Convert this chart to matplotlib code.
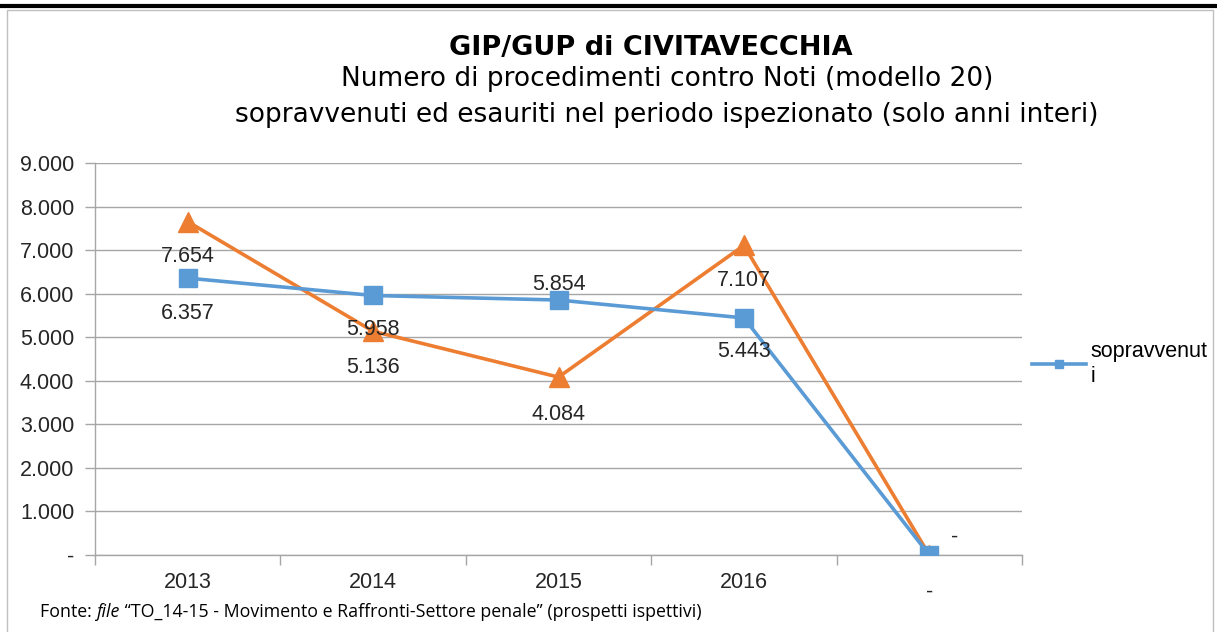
import matplotlib
matplotlib.use("Agg")
import matplotlib.pyplot as plt
from matplotlib.lines import Line2D
from matplotlib.patches import Rectangle

# ---- data ----
categories = ["2013", "2014", "2015", "2016", ""]
sopravvenuti = [6357, 5958, 5854, 5443, 0]
esauriti = [7654, 5136, 4084, 7107, 0]
y_ticks = [0, 1000, 2000, 3000, 4000, 5000, 6000, 7000, 8000, 9000]
y_tick_labels = ["-", "1.000", "2.000", "3.000", "4.000", "5.000",
                 "6.000", "7.000", "8.000", "9.000"]
title = "GIP/GUP di CIVITAVECCHIA"
subtitle = ("Numero di procedimenti contro Noti (modello 20)\n"
            "sopravvenuti ed esauriti nel periodo ispezionato (solo anni interi)")
legend_label = "sopravvenut\ni"

BLUE = "#5B9BD5"
ORANGE = "#ED7D31"
GRID = "#A6A6A6"
FS = 15.5


def fmt(v):
    if v == 0:
        return "-"
    return f"{v:,.0f}".replace(",", ".")


fig = plt.figure(figsize=(12.17, 6.32), dpi=100)
ax = fig.add_axes([95 / 1217, 1 - 555 / 632, 927 / 1217, 392 / 632])

x = list(range(len(categories)))
ax.plot(x, esauriti, color=ORANGE, lw=2.6, marker="^", ms=14,
        markeredgecolor=ORANGE, zorder=3)
ax.plot(x, sopravvenuti, color=BLUE, lw=2.6, marker="s", ms=12.5,
        markeredgecolor=BLUE, zorder=4)

ax.set_xlim(-0.5, len(categories) - 0.5)
ax.set_ylim(0, 9000)
ax.set_yticks(y_ticks)
ax.set_yticklabels(y_tick_labels, fontfamily="Liberation Sans", fontsize=FS,
                   color="#262626")
ax.set_xticks(x)
ax.set_xticklabels(categories, fontfamily="Liberation Sans", fontsize=FS,
                   color="#262626")
ax.set_xticks([i - 0.5 for i in range(len(categories) + 1)], minor=True)
ax.tick_params(axis="x", which="major", length=0, pad=12)
ax.tick_params(axis="x", which="minor", length=7, color=GRID, width=1)
ax.tick_params(axis="y", length=7, color=GRID, width=1, pad=8)
ax.grid(axis="y", color=GRID, lw=1)
ax.set_axisbelow(True)
for s in ["top", "right"]:
    ax.spines[s].set_visible(False)
for s in ["left", "bottom"]:
    ax.spines[s].set_color(GRID)
    ax.spines[s].set_linewidth(1)

# data labels (pixel offsets from the point)
blue_off = [(0, -35), (0, -34), (0, 16), (0, -34), (25, 18)]
orange_off = [(0, -35), (0, -36), (0, -37), (0, -35), (0, -37)]
for i, v in enumerate(sopravvenuti):
    ax.annotate(fmt(v), (x[i], v), xytext=blue_off[i], textcoords="offset pixels",
                ha="center", va="center", fontsize=FS, family="Liberation Sans",
                color="#262626", zorder=5)
for i, v in enumerate(esauriti):
    ax.annotate(fmt(v), (x[i], v), xytext=orange_off[i], textcoords="offset pixels",
                ha="center", va="center", fontsize=FS, family="Liberation Sans",
                color="#262626", zorder=5)

# legend (only first series shown)
handle = Line2D([], [], color=BLUE, lw=2.6, marker="s", ms=6)
fig.legend([handle], [legend_label], loc="center left",
           bbox_to_anchor=(1013 / 1217, 1 - 364 / 632), frameon=False,
           prop={"family": "Liberation Sans", "size": FS},
           handlelength=2.5, handletextpad=0.2, labelspacing=0.1)

# titles
fig.text(651 / 1217, 1 - 48 / 632, title, ha="center", va="center",
         fontsize=19.5, fontweight="bold", family="DejaVu Sans", color="black")
fig.text(667 / 1217, 1 - 97 / 632, subtitle, ha="center", va="center",
         fontsize=19, family="DejaVu Sans", color="black", linespacing=1.55)

# footer
renderer = fig.canvas.get_renderer()
footer_parts = [("Fonte: ", "normal"), ("file", "italic"),
                (" \u201cTO_14-15 - Movimento e Raffronti-Settore penale\u201d (prospetti ispettivi)", "normal")]
xpos = 40
for txt, style in footer_parts:
    t = fig.text(xpos / 1217, 1 - 612 / 632, txt, ha="left", va="center",
                 fontsize=12.8, family="Open Sans", style=style)
    bb = t.get_window_extent(renderer=renderer)
    xpos += bb.width

# page frame
fig.add_artist(Line2D([0, 1], [1 - 6 / 632, 1 - 6 / 632], color="black", lw=3,
                      transform=fig.transFigure))
fig.add_artist(Rectangle((7 / 1217, -0.01), 1206 / 1217, 1 - 10 / 632 + 0.01,
                         transform=fig.transFigure, fill=False,
                         edgecolor="#BFBFBF", lw=1))

fig.savefig("out.png", dpi=100)
